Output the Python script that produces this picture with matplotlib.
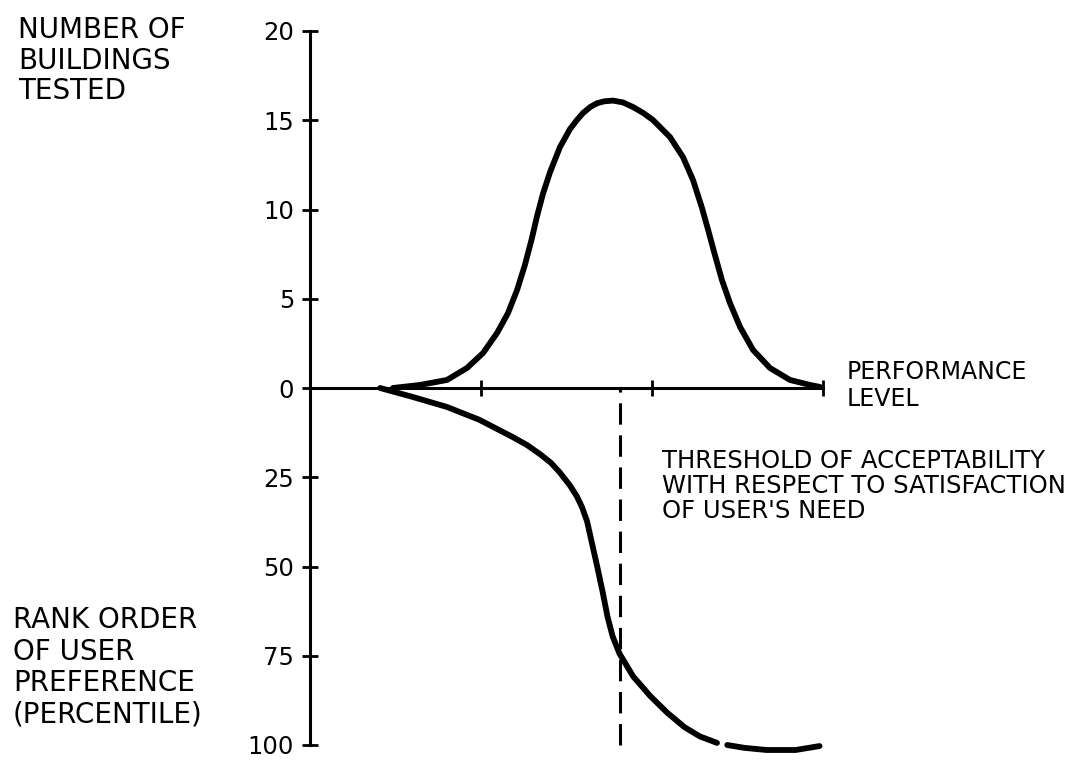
import numpy as np
import matplotlib
matplotlib.use("Agg")
import matplotlib.pyplot as plt

# Performance level (arbitrary units, axis runs 0..3)
bell_x = [0.485, 0.643, 0.801, 0.918, 1.012, 1.094, 1.158, 1.211, 1.257, 1.298,
          1.327, 1.363, 1.404, 1.462, 1.520, 1.560, 1.596, 1.640, 1.678, 1.720,
          1.772, 1.830, 1.889, 1.950, 2.006, 2.105, 2.181, 2.240, 2.292, 2.327,
          2.368, 2.409, 2.456, 2.515, 2.591, 2.690, 2.807, 2.924, 2.982]
# Number of buildings tested
bell_count = [0.0, 0.17, 0.45, 1.12, 1.96, 3.08, 4.2, 5.49, 6.9, 8.4,
              9.6, 10.9, 12.1, 13.5, 14.5, 15.0, 15.4, 15.75, 15.95, 16.06,
              16.1, 16.0, 15.74, 15.4, 15.01, 14.06, 12.94, 11.65, 10.1, 8.9,
              7.45, 6.05, 4.76, 3.42, 2.13, 1.12, 0.45, 0.17, 0.06]

# Rank order of user preference (percentile), nan = break in the drawn line
pref_x = [0.41, 0.60, 0.80, 0.99, 1.18, 1.27, 1.35, 1.41, 1.46, 1.52, 1.56, 1.59,
          1.62, 1.65, 1.68, 1.71, 1.74, 1.77, 1.81, 1.89, 1.99, 2.09, 2.19, 2.28,
          2.38, np.nan, 2.44, 2.54, 2.67, 2.84, 2.98]
pref_pct = [0, 2.5, 5.3, 8.9, 13.6, 16.0, 18.7, 21.0, 23.6, 27.3, 30.3, 33.3,
            37.3, 43.7, 50.1, 56.8, 64.1, 69.6, 74.4, 80.8, 86.3, 91.0, 95.0, 97.6,
            99.4, np.nan, 100, 100.8, 101.4, 101.4, 100.3]

threshold = 1.81
count_ticks = [0, 5, 10, 15, 20]
pct_ticks = [25, 50, 75, 100]
perf_ticks = [1, 2, 3]

# lower half: 100 percentile drawn as the same height as 20 buildings
scale = 20 / 100

fig = plt.figure(figsize=(10.78, 7.63), dpi=100)
ax = fig.add_axes([0, 0, 1, 1])
ax.set_xlim(-310 / 171, (1078 - 310) / 171)
ax.set_ylim((388 - 763) / 17.85, 388 / 17.85)

ax.plot(bell_x, bell_count, color="black", lw=4.2, solid_capstyle="round",
        solid_joinstyle="round")
ax.plot(pref_x, [-p * scale for p in pref_pct], color="black", lw=4.2,
        solid_capstyle="round", solid_joinstyle="round")
ax.vlines(threshold, -100 * scale, 0, colors="black", lw=2.2,
          linestyles=(0, (7, 3.5)))

# axes through the origin
for s in ["top", "right"]:
    ax.spines[s].set_visible(False)
ax.spines["left"].set_position(("data", 0))
ax.spines["bottom"].set_position(("data", 0))
ax.spines["left"].set_bounds(-100 * scale, 20)
ax.spines["bottom"].set_bounds(0, 3)
ax.spines["left"].set_linewidth(2.2)
ax.spines["bottom"].set_linewidth(2.2)

yt = count_ticks + [-p * scale for p in pct_ticks]
ax.set_yticks(yt)
ax.set_yticklabels([str(v) for v in count_ticks] + [str(v) for v in pct_ticks])
ax.set_xticks(perf_ticks)
ax.set_xticklabels([])
ax.tick_params(axis="both", direction="inout", length=11, width=2, labelsize=17.5,
               pad=6)

fig.text(18 / 1078, 1 - 16 / 763, "NUMBER OF\nBUILDINGS\nTESTED",
         fontsize=20, va="top", ha="left", linespacing=1.12)
fig.text(13 / 1078, 1 - 606 / 763, "RANK ORDER\nOF USER\nPREFERENCE\n(PERCENTILE)",
         fontsize=20, va="top", ha="left", linespacing=1.16)
fig.text(847 / 1078, 1 - 360 / 763, "PERFORMANCE\nLEVEL",
         fontsize=17, va="top", ha="left", linespacing=1.14)
fig.text(662 / 1078, 1 - 449 / 763,
         "THRESHOLD OF ACCEPTABILITY\nWITH RESPECT TO SATISFACTION\nOF USER'S NEED",
         fontsize=17.5, va="top", ha="left", linespacing=1.05)

fig.savefig("out.png", dpi=100, facecolor="white")
